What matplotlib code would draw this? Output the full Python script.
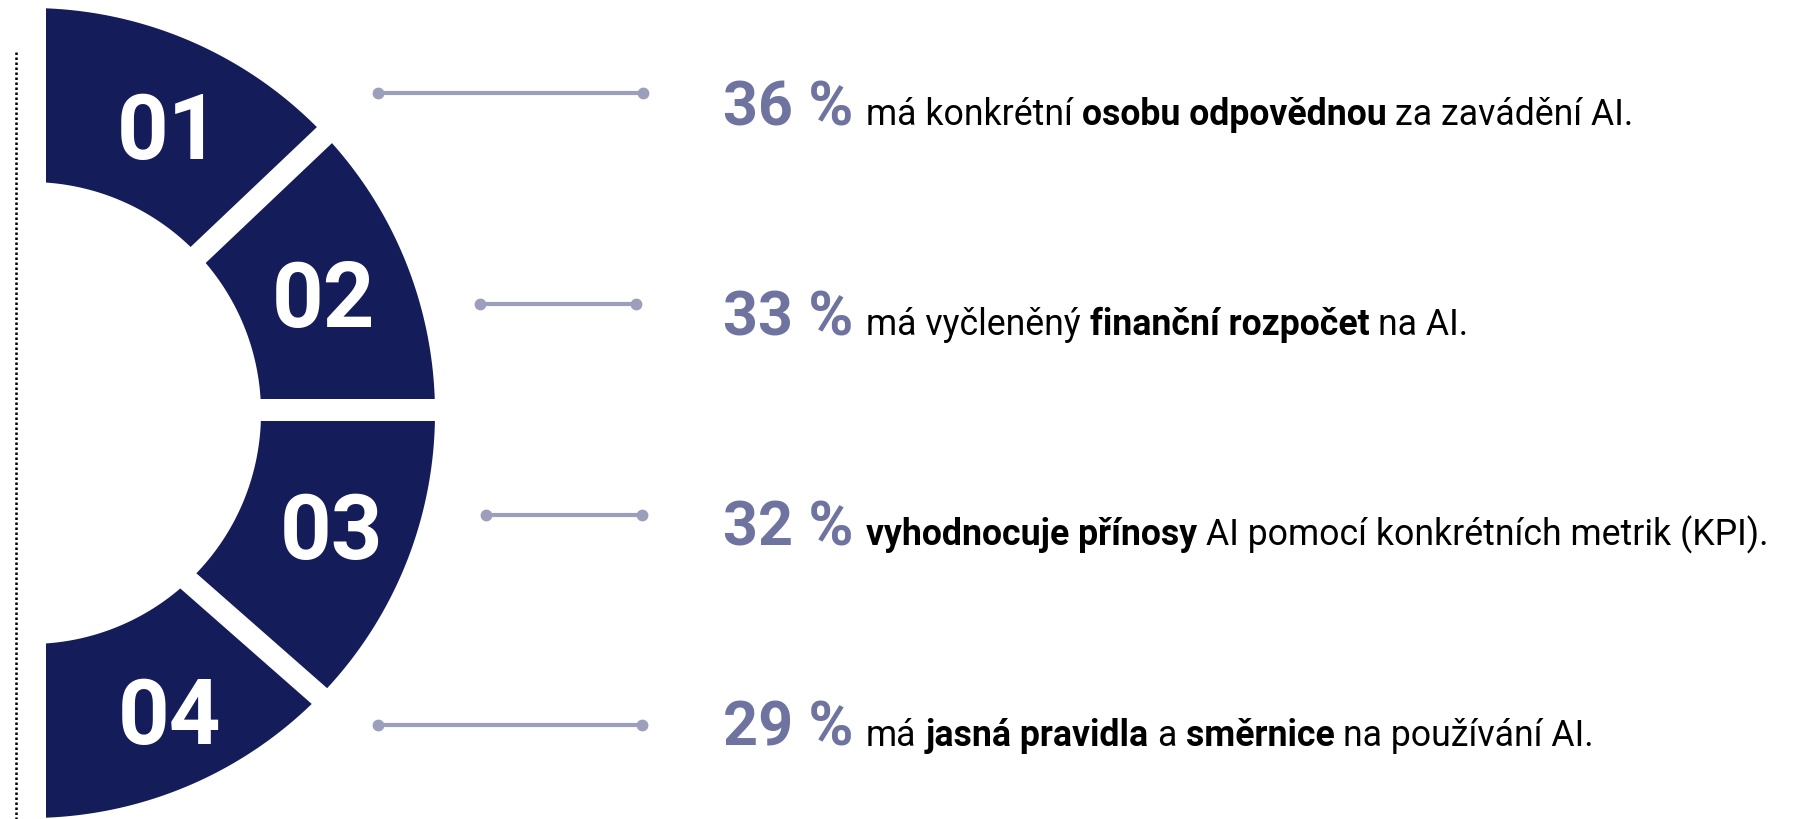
import numpy as np
import matplotlib
matplotlib.use("Agg")
import matplotlib.pyplot as plt
from matplotlib.patches import Polygon, Rectangle
from matplotlib import font_manager as fm

# ---------------- data ----------------
labels = ["01", "02", "03", "04"]
percents = [36, 33, 32, 29]
statements = [
    [("má konkrétní", False), ("osobu odpovědnou", True), ("za zavádění AI.", False)],
    [("má vyčleněný", False), ("finanční rozpočet", True), ("na AI.", False)],
    [("vyhodnocuje přínosy", True), ("AI pomocí konkrétních metrik (KPI).", False)],
    [("má", False), ("jasná pravidla", True), ("a", False), ("směrnice", True),
     ("na používání AI.", False)],
]

# ---------------- style / layout ----------------
NAVY = "#141c5a"
PCT_COL = "#6f739f"
LINE_COL = "#9c9fbb"
W, H = 1805, 819


def has_font(name):
    try:
        fm.findfont(fm.FontProperties(family=name), fallback_to_default=False)
        return True
    except Exception:
        return False


narrow = "Liberation Sans Narrow" if has_font("Liberation Sans Narrow") else "Roboto"
body_font = narrow
num_font = narrow
pct_font = "Roboto"

fig = plt.figure(figsize=(W / 100, H / 100), dpi=100)
ax = fig.add_axes([0, 0, 1, 1])
ax.set_xlim(0, W)
ax.set_ylim(H, 0)
ax.axis("off")
fig.canvas.draw()
renderer = fig.canvas.get_renderer()

# ring geometry (pixel units)
cx, cy, r_in, r_out = 30, 413, 231, 405
clip_x = 46
# gaps: (position angle at mid radius, slope angle)
gaps = [(43.3, 43.5), (0.6, 0.0), (-45.2, -41.3)]
gap_w = 22
label_pos = [(319, 64.2), (317, 22.0), (322, -20.5), (329, -65.0)]

t = np.radians(np.linspace(-95, 95, 400))
xs = np.concatenate([cx + r_out * np.cos(t), cx + r_in * np.cos(t[::-1])])
ys = np.concatenate([cy - r_out * np.sin(t), cy - r_in * np.sin(t[::-1])])
ax.add_patch(Polygon(np.column_stack([xs, ys]), closed=True, fc=NAVY, ec="none", zorder=1))

r_mid = (r_in + r_out) / 2
for pos, slope in gaps:
    pr = np.radians(pos)
    px, py = cx + r_mid * np.cos(pr), cy - r_mid * np.sin(pr)
    s = np.radians(slope)
    d = np.array([np.cos(s), -np.sin(s)])
    n = np.array([-d[1], d[0]])
    L = 160
    p = np.array([px, py])
    corners = [p - d * L + n * gap_w / 2, p + d * L + n * gap_w / 2,
               p + d * L - n * gap_w / 2, p - d * L - n * gap_w / 2]
    ax.add_patch(Polygon(corners, closed=True, fc="white", ec="none", zorder=2))

ax.add_patch(Rectangle((0, 0), clip_x, H, fc="white", ec="none", zorder=3))

# dotted vertical line
ax.plot([16, 16], [52, H], color="black", lw=1.8, ls=(0, (1, 1)), zorder=4)

# number labels
cap_h = 66
for lab, (r, a) in zip(labels, label_pos):
    ar = np.radians(a)
    x = cx + r * np.cos(ar)
    y = cy - r * np.sin(ar) + cap_h / 2
    ax.text(x, y, lab, color="white", fontsize=65, fontweight="bold",
            family=num_font, ha="center", va="baseline", zorder=5)

# connectors
conn_y = [93, 304, 515, 725]
conn_x0 = [378, 480, 486, 378]
conn_x1 = [643, 636, 642, 642]
for y, x0, x1 in zip(conn_y, conn_x0, conn_x1):
    ax.plot([x0, x1], [y, y], color=LINE_COL, lw=3, solid_capstyle="butt", zorder=4)
    ax.plot([x0, x1], [y, y], ls="none", marker="o", ms=7.5, color=LINE_COL, zorder=4)


def text_w(s, size, bold):
    tt = ax.text(0, 0, s, fontsize=size, fontweight="bold" if bold else "normal",
                 family=body_font)
    w = tt.get_window_extent(renderer).width
    tt.remove()
    return w


def line_width(pieces, size):
    sp = text_w("x x", size, False) - text_w("xx", size, False)
    total = 0
    for i, (s, b) in enumerate(pieces):
        total += text_w(s, size, b)
        if i < len(pieces) - 1:
            total += sp
    return total


# fit the body font size so the first statement spans its target width
target = 1632 - 866
base = 30
body_size = min(31, base * target / line_width(statements[0], base))

baselines = [125, 335, 545, 746]
pct_x, body_x = 723, 866
for pct, pieces, yb in zip(percents, statements, baselines):
    ax.text(pct_x, yb, f"{pct} %", color=PCT_COL, fontsize=44, fontweight="bold",
            family=pct_font, ha="left", va="baseline", zorder=5)
    sp = text_w("x x", body_size, False) - text_w("xx", body_size, False)
    x = body_x
    for s, b in pieces:
        tt = ax.text(x, yb, s, color="black", fontsize=body_size,
                     fontweight="bold" if b else "normal", family=body_font,
                     ha="left", va="baseline", zorder=5)
        x += tt.get_window_extent(renderer).width + sp

fig.savefig("out.png", dpi=100, facecolor="white")
